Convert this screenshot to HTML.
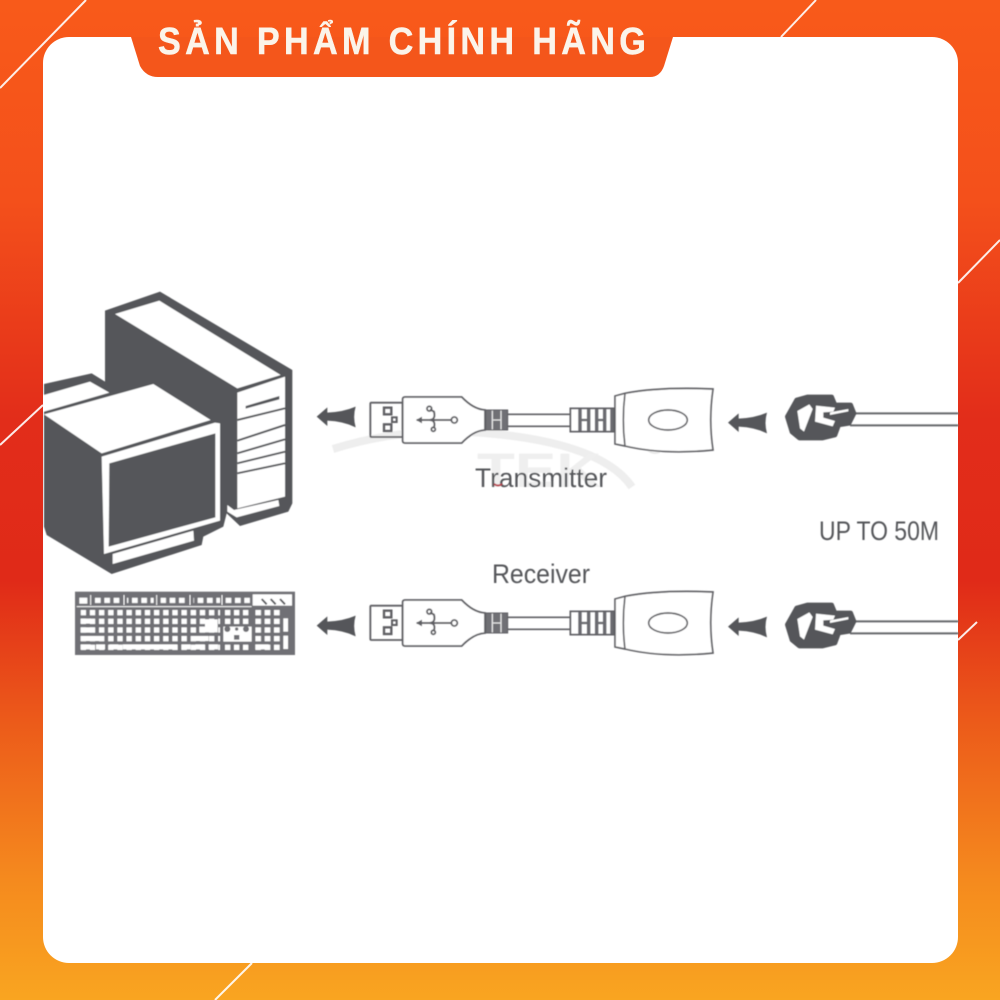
<!DOCTYPE html>
<html><head><meta charset="utf-8"><style>
html,body{margin:0;padding:0;background:#fff}
svg{display:block}
text{font-family:"Liberation Sans",sans-serif}
</style></head><body>
<svg width="1000" height="1000" viewBox="0 0 1000 1000" xmlns="http://www.w3.org/2000/svg">
<defs>
<linearGradient id="bg" x1="0" y1="0" x2="0" y2="1">
<stop offset="0" stop-color="#f85a1a"/><stop offset=".2" stop-color="#f4501b"/><stop offset=".42" stop-color="#e22d1a"/><stop offset=".58" stop-color="#e02a18"/><stop offset=".72" stop-color="#ec5a1a"/><stop offset=".88" stop-color="#f58a1e"/><stop offset="1" stop-color="#f9a520"/>
</linearGradient>
<filter id="soft" x="-5%" y="-5%" width="110%" height="110%"><feGaussianBlur stdDeviation=".4"/></filter>
<pattern id="keys" patternUnits="userSpaceOnUse" x="32" y="75" width="27.5" height="26"><rect x="0" y="0" width="16" height="16" fill="#fff"/></pattern>
<pattern id="numkeys" patternUnits="userSpaceOnUse" x="465" y="75" width="27" height="26"><rect x="0" y="0" width="16" height="16" fill="#fff"/></pattern>
<pattern id="padkeys" patternUnits="userSpaceOnUse" x="556" y="75" width="28" height="26"><rect x="0" y="0" width="17" height="16" fill="#fff"/></pattern>
<pattern id="fkeys" patternUnits="userSpaceOnUse" x="75" y="38" width="28" height="20"><rect x="0" y="0" width="17" height="16" fill="#fff"/></pattern>
<g id="arrow"><path d="M20 140 L52 112 L52 128 Q100 126 137 110 Q128 140 137 172 Q100 154 52 152 L52 168 Z" fill="#55565a"/></g>
<g id="usb" fill="none" stroke="#5e5f63" stroke-width="5.5">
<rect x="181" y="98" width="97" height="103" rx="3"/>
<path d="M278 88 Q278 81 285 81 L455 81 Q490 118 525 120 L525 180 Q490 182 455 219 L285 219 Q278 219 278 212 Z" fill="#fff"/>
<rect x="222" y="113" width="22" height="20" stroke-width="7"/><rect x="222" y="163" width="22" height="20" stroke-width="7"/><rect x="246" y="142" width="14" height="14" stroke-width="6"/>
<path d="M320 150 H425 M358 150 Q378 150 372 125 L360 118 M358 150 Q378 150 372 172" stroke-width="6"/>
<path d="M318 150 L336 140 L336 160 Z" fill="#5e5f63" stroke="none"/>
<circle cx="433" cy="150" r="9"/><circle cx="370" cy="178" r="6"/><circle cx="358" cy="116" r="7"/>
<rect x="527" y="120" width="66" height="60" fill="#6f7074" stroke-width="3"/>
<path d="M547 122 V178 M573 122 V178 M547 150 H573" stroke="#e8e8e8" stroke-width="4"/>
<path d="M593 133 H780 M593 169 H780" stroke-width="5"/>
<rect x="781" y="115" width="132" height="70" stroke-width="5"/>
<path d="M810 117 V183 M836 117 V183 M860 117 V183 M884 117 V183 M906 117 V183" stroke-width="10" stroke="#6a6b6f"/>
<path d="M810 150 H836 M860 150 H884" stroke="#6a6b6f" stroke-width="7"/>
<path d="M915 78 L945 70 Q1050 50 1209 57 Q1195 150 1209 240 Q1060 255 945 228 L915 222 Z" fill="#fff" stroke-width="5"/>
<path d="M945 70 Q935 150 945 228" stroke-width="5"/>
<ellipse cx="1074" cy="150" rx="58" ry="30" stroke-width="5"/>
</g>
<g id="plug">
<path d="M22 95 L50 45 L82 36 L155 36 L165 60 L212 60 L222 85 L207 115 L176 120 L165 150 L128 159 L58 159 L36 141 Z" fill="#55565a" stroke="#55565a" stroke-width="14" stroke-linejoin="round"/>
<path d="M52 78 L88 58 L98 72 L72 140 L60 130 Z" fill="#fff"/>
<path d="M108 62 L165 68 L160 80 L130 82 L130 98 L165 108 L158 124 L105 110 Z" fill="#fff"/>
<path d="M150 82 L205 72 L205 79 L150 90 Z" fill="#fff"/>
</g>
</defs>
<rect width="1000" height="1000" fill="url(#bg)"/>
<g stroke="#fff" stroke-width="2" opacity=".9">
<path d="M0 88 L86 0"/><path d="M816 0 L781 37"/><path d="M958 283 L1000 240"/><path d="M0 445 L43 405"/><path d="M958 640 L977 622"/><path d="M215 1000 L252 963"/>
</g>
<rect x="43" y="37" width="915" height="926" rx="26" fill="#fff"/>
<path d="M131 37 H673 L664 66 Q660 77 650 77 H158 Q146 77 140 66 Z" fill="#f4561b"/>
<text transform="translate(158 54) scale(.9 1)" font-size="38" font-weight="700" fill="#fbf4ea" stroke="#fbf4ea" stroke-width=".5" textLength="542" lengthAdjust="spacing">SẢN PHẨM CHÍNH HÃNG</text>

<g filter="url(#soft)">
<!-- watermark -->
<path d="M333 449 Q400 428 470 432 Q600 440 632 487" fill="none" stroke="#eeeeee" stroke-width="8"/>
<text x="477" y="487" font-size="48" font-weight="700" fill="#efefef" textLength="124" lengthAdjust="spacingAndGlyphs">TEK</text>
<circle cx="655" cy="443" r="10" fill="none" stroke="#e8e8e8" stroke-width="2"/>

<!-- computer -->
<g transform="translate(40 280) scale(.33333)">
<path d="M195 92 L360 35 L757 270 V670 L745 695 L600 738 L560 700 L550 740 L490 770 L485 795 L215 882 L20 765 L12 740 V312 L155 280 L195 305 Z" fill="#55565a"/>
<path d="M225 102 L358 62 L722 285 L592 325 Z" fill="#fff"/>
<path d="M592 338 L735 290 V650 L592 685 Z" fill="#fff"/>
<path d="M617 378 L718 348 V358 L617 386 Z" fill="#55565a"/>
<path d="M592 420 L735 385 M592 482 L735 435 M592 520 L735 478 M592 550 L735 515 M592 580 L735 550" stroke="#55565a" stroke-width="6" fill="none"/>
<path d="M562 675 L582 690 L715 660 L718 678 L590 712 L562 695 Z" fill="#fff"/>
<path d="M12 345 L150 305 L208 338 L12 395 Z" fill="#fff"/>
<path d="M12 403 L340 312 L512 420 L185 520 Z" fill="#fff"/>
<path d="M185 530 L525 428 L540 430 V722 L192 822 Z" fill="#fff"/>
<path d="M208 550 L526 460 V712 L206 800 Z" fill="#55565a"/>
<path d="M218 822 L460 752 L462 782 L218 852 Z" fill="#fff"/>
</g>

<!-- keyboard -->
<g transform="translate(70 585) scale(.33333)">
<rect x="15" y="20" width="660" height="190" fill="#6f7074"/>
<rect x="548" y="28" width="118" height="34" fill="#fff"/>
<rect x="28" y="38" width="24" height="18" fill="#fff"/>
<rect x="75" y="38" width="80" height="18" fill="url(#fkeys)"/>
<rect x="172" y="38" width="80" height="18" fill="url(#fkeys)" transform="translate(-1 0)"/>
<rect x="272" y="38" width="80" height="18" fill="url(#fkeys)"/>
<rect x="370" y="38" width="80" height="18" fill="url(#fkeys)"/>
<rect x="464" y="38" width="76" height="18" fill="url(#fkeys)"/>
<path d="M62 30 V60 M162 30 V60 M260 30 V60 M360 30 V60 M456 30 V60" stroke="#fff" stroke-width="3"/>
<path d="M20 65 H545" stroke="#fff" stroke-width="3"/>
<rect x="32" y="75" width="418" height="120" fill="url(#keys)"/>
<rect x="465" y="75" width="78" height="42" fill="url(#numkeys)"/>
<rect x="465" y="177" width="78" height="18" fill="url(#numkeys)"/>
<rect x="556" y="75" width="82" height="120" fill="url(#padkeys)"/>
<rect x="640" y="100" width="14" height="40" fill="#fff"/><rect x="640" y="152" width="14" height="40" fill="#fff"/>
<path d="M32 101 H62 V116 H32 Z M32 127 H75 V143 H32 Z M32 153 H88 V168 H32 Z M32 178 H62 V193 H32 Z M78 178 H105 V193 H78 Z M118 178 H145 V193 H118 Z M158 178 H322 V193 H158 Z M334 178 H362 V193 H334 Z M376 178 H404 V193 H376 Z M416 178 H444 V193 H416 Z M376 153 H416 V168 H376 Z M405 103 H443 V142 H388 V125 H405 Z M556 178 H596 V193 H556 Z" fill="#fff"/>
<path d="M460 125 H545 V170 H460 Z" fill="#fff"/>
<g fill="#6f7074"><circle cx="472" cy="132" r="9"/><circle cx="500" cy="132" r="5"/><circle cx="528" cy="132" r="9"/><rect x="492" y="150" width="16" height="14"/></g>
<path d="M575 42 L590 58 M602 42 L617 58 M630 42 L645 58" stroke="#55565a" stroke-width="6"/>
</g>

<!-- connectors -->
<g transform="translate(310 370) scale(.33333)"><use href="#arrow"/><use href="#usb"/></g>
<g transform="translate(310 579) scale(.33333)"><use href="#arrow"/></g>
<g transform="translate(310 573) scale(.33333)"><use href="#usb"/></g>

<!-- right arrows, plugs -->
<g transform="translate(660 370) scale(.33333)">
<use href="#arrow" transform="translate(184 18)"/>
<path d="M588 130 H895 M570 166 H895" stroke="#66676b" stroke-width="6" fill="none"/>
</g>
<g transform="translate(780 385) scale(.33333)"><use href="#plug"/></g>
<g transform="translate(660 578) scale(.33333)">
<use href="#arrow" transform="translate(184 6)"/>
<path d="M588 130 H895 M570 166 H895" stroke="#66676b" stroke-width="6" fill="none"/>
</g>
<g transform="translate(780 593) scale(.33333)"><use href="#plug"/></g>

<text x="475" y="487" font-size="27" fill="#55565a" textLength="132" lengthAdjust="spacingAndGlyphs">Transmitter</text>
<path d="M494 484 Q498 487 502 484" stroke="#b8404a" stroke-width="2" fill="none"/>
<text x="492" y="583" font-size="27" fill="#55565a" textLength="98" lengthAdjust="spacingAndGlyphs">Receiver</text>
<text x="819" y="540" font-size="27" fill="#55565a" textLength="120" lengthAdjust="spacingAndGlyphs">UP TO 50M</text>
</g>
</svg>
</body></html>
